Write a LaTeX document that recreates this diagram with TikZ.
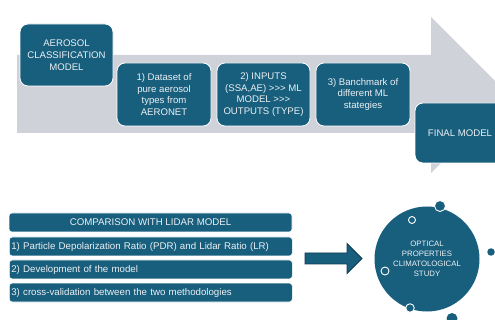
\documentclass[tikz,border=0pt]{standalone}
\usepackage{fontspec}
\setmainfont{Liberation Sans}
\definecolor{boxblue}{RGB}{24,94,125}
\definecolor{arrowgray}{RGB}{207,211,217}
\definecolor{txtlight}{RGB}{236,241,244}
\definecolor{arrowline}{RGB}{16,62,84}
\tikzset{
  topbox/.style={draw=white, line width=0.8pt, fill=boxblue, rounded corners=8pt,
    text=txtlight, font=\fontsize{9.6}{11.7}\selectfont, align=center, inner sep=0pt},
  listbox/.style={draw=white, line width=0.6pt, fill=boxblue, rounded corners=3pt,
    text=txtlight, font=\fontsize{9.7}{11}\selectfont, inner xsep=2pt, inner ysep=0pt,
    minimum height=19pt},
  dotfill/.style={circle, fill=boxblue, draw=white, line width=0.9pt, inner sep=0pt},
  dothollow/.style={circle, draw=white, line width=0.9pt, fill=boxblue, inner sep=0pt}
}
\begin{document}
\begin{tikzpicture}[x=1pt,y=-1pt]
\useasboundingbox (0,0) rectangle (495,320);
\clip (0,0) rectangle (495,320);
% big gray process arrow
\fill[arrowgray] (17,55) -- (431,55) -- (431,17) -- (509,95) -- (431,173) -- (431,133) -- (17,133) -- cycle;
% top boxes
\node[topbox, minimum width=93pt, minimum height=62pt] (acm) at (66.5,55) {AEROSOL\\CLASSIFICATION\\MODEL};
\node[topbox, minimum width=94pt, minimum height=63pt] (s1) at (164,94.5) {1) Dataset of\\pure aerosol\\types from\\AERONET};
\node[topbox, minimum width=93pt, minimum height=63pt] (s2) at (263.5,94.5) {2) INPUTS\\(SSA,AE) >{}>{}> ML\\MODEL >{}>{}>\\OUTPUTS (TYPE)};
\node[topbox, minimum width=94pt, minimum height=63pt] (s3) at (363,94.5) {3) Banchmark of\\different ML\\stategies};
\node[topbox, minimum width=90pt, minimum height=60pt] (fin) at (460,133) {FINAL MODEL};
% bottom list
\node[listbox, minimum width=283pt, align=center] (cmp) at (150.5,222.5) {COMPARISON WITH LIDAR MODEL};
\node[listbox, text width=279pt, align=left, anchor=west] (r1) at (9,246.5) {1) Particle Depolarization Ratio (PDR) and Lidar Ratio (LR)};
\node[listbox, text width=279pt, align=left, anchor=west] (r2) at (9,269.5) {2) Development of the model};
\node[listbox, text width=279pt, align=left, anchor=west] (r3) at (9,292.5) {3) cross-validation between the two methodologies};
% block arrow
\filldraw[fill=boxblue, draw=arrowline, line width=0.8pt]
  (305,253) -- (347,253) -- (347,243.5) -- (362,258.5) -- (347,273.5) -- (347,264) -- (305,264) -- cycle;
% circle
\node[circle, fill=boxblue, minimum size=105pt, inner sep=0pt, text=txtlight,
  font=\fontsize{7.8}{10}\selectfont, align=center] (opt) at (427,259) {OPTICAL\\PROPERTIES\\CLIMATOLOGICAL\\STUDY};
\node[dotfill, minimum size=11pt] (d1) at (440,206) {};
\node[dothollow, minimum size=7pt] (d2) at (412,220) {};
\node[dothollow, minimum size=8pt] (d3) at (385,271) {};
\node[dotfill, minimum size=8.5pt] (d4) at (410,308) {};
\node[dotfill, minimum size=7.5pt, draw=none] (d5) at (491,252) {};
\node[dotfill, minimum size=11pt, draw=none] (d6) at (452,318.5) {};
\end{tikzpicture}
\end{document}
